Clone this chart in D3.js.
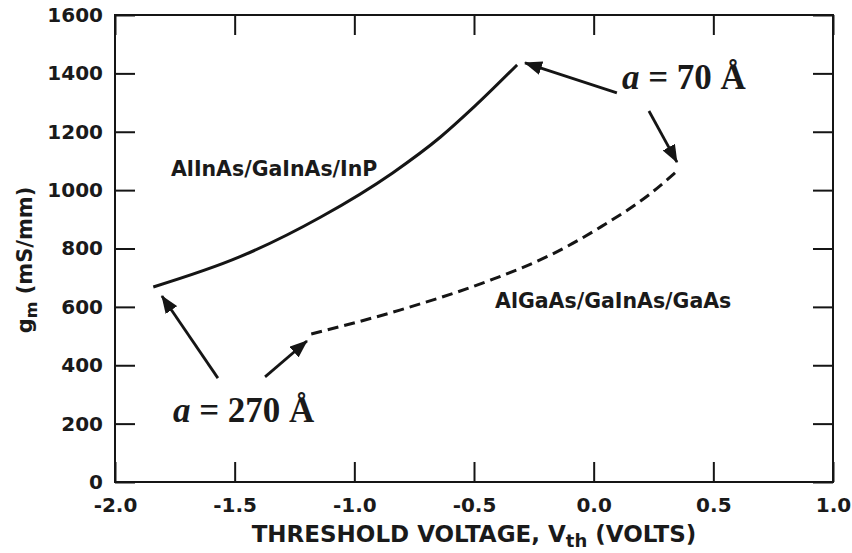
<!DOCTYPE html>
<html>
<head>
<meta charset="utf-8">
<script src="https://cdn.jsdelivr.net/npm/d3@7"></script>
<style>
  body { margin: 0; background: #fff; }
  svg { display: block; }
  .tick text { font-family: "DejaVu Sans", sans-serif; font-weight: bold; font-size: 20px; fill: #1a1a1a; }
</style>
</head>
<body>
<svg id="chart"></svg>
<script>
const width = 852
const height = 553
const margin = { top: 15, right: 19, bottom: 71, left: 115 }
const innerW = width - margin.left - margin.right
const innerH = height - margin.top - margin.bottom

// data
const xTicks = [-2.0, -1.5, -1.0, -0.5, 0.0, 0.5, 1.0]
const yTicks = [0, 200, 400, 600, 800, 1000, 1200, 1400, 1600]

const inpV = [-1.84, -1.48, -1.14, -0.84, -0.64, -0.50, -0.32]
const inpGm = [668, 771, 908, 1059, 1182, 1285, 1429]
const gaasV = [-1.18, -0.81, -0.43, -0.18, 0.03, 0.24, 0.34]
const gaasGm = [507, 589, 692, 778, 874, 990, 1059]

const seriesLabels = ['AlInAs/GaInAs/InP', 'AlGaAs/GaInAs/GaAs']
const seriesLabelPos = [[-1.766, 1048], [-0.412, 596]]

const noteLabels = ['70', '270']
const notePos = [[0.118, 1348], [-1.758, 206]]
// arrows: [tailV, tailGm, tipV, tipGm]
const arrows = [
  [0.097, 1333, -0.287, 1436],
  [0.231, 1271, 0.348, 1096],
  [-1.570, 356, -1.804, 637],
  [-1.373, 360, -1.198, 483]
]

const x = d3.scaleLinear().domain([-2, 1]).range([0, innerW])
const y = d3.scaleLinear().domain([0, 1600]).range([innerH, 0])

const svg = d3.select('#chart').attr('width', width).attr('height', height)
const g = svg.append('g').attr('transform', `translate(${margin.left},${margin.top})`)

const ink = '#151515'

// axes with inside ticks
const axisB = g.append('g')
  .attr('transform', `translate(0,${innerH})`)
  .call(d3.axisBottom(x).tickValues(xTicks).tickSize(-20).tickPadding(16).tickFormat(d3.format('.1f')))
const axisL = g.append('g')
  .call(d3.axisLeft(y).tickValues(yTicks).tickSize(-20).tickPadding(12).tickFormat(d3.format('d')))
const axisT = g.append('g')
  .call(d3.axisTop(x).tickValues(xTicks).tickSize(-20).tickFormat(''))
const axisR = g.append('g')
  .attr('transform', `translate(${innerW},0)`)
  .call(d3.axisRight(y).tickValues(yTicks).tickSize(-20).tickFormat(''))

;[axisB, axisL, axisT, axisR].forEach(a => {
  a.select('.domain').remove()
  a.selectAll('.tick line').attr('stroke', ink).attr('stroke-width', 2)
})
// minus signs as plain hyphen like the original
axisB.selectAll('.tick text').text(d => d3.format('.1f')(d).replace('−', '-'))

g.append('rect')
  .attr('width', innerW)
  .attr('height', innerH)
  .attr('fill', 'none')
  .attr('stroke', ink)
  .attr('stroke-width', 2)

// curves
const line = d3.line()
  .x(d => x(d[0]))
  .y(d => y(d[1]))
  .curve(d3.curveMonotoneX)

g.append('path')
  .datum(inpV.map((v, i) => [v, inpGm[i]]))
  .attr('d', line)
  .attr('fill', 'none')
  .attr('stroke', ink)
  .attr('stroke-width', 3)

g.append('path')
  .datum(gaasV.map((v, i) => [v, gaasGm[i]]))
  .attr('d', line)
  .attr('fill', 'none')
  .attr('stroke', ink)
  .attr('stroke-width', 3)
  .attr('stroke-dasharray', '11,6')

// series labels
g.selectAll('.series-label')
  .data(seriesLabels)
  .join('text')
  .attr('class', 'series-label')
  .attr('x', (d, i) => x(seriesLabelPos[i][0]))
  .attr('y', (d, i) => y(seriesLabelPos[i][1]))
  .attr('font-family', '"DejaVu Sans", sans-serif')
  .attr('font-weight', 'bold')
  .attr('font-size', 20.5)
  .attr('fill', '#1a1a1a')
  .text(d => d)

// arrows
svg.append('defs').append('marker')
  .attr('id', 'head')
  .attr('viewBox', '0 0 18 14')
  .attr('refX', 17)
  .attr('refY', 7)
  .attr('markerWidth', 18)
  .attr('markerHeight', 14)
  .attr('markerUnits', 'userSpaceOnUse')
  .attr('orient', 'auto')
  .append('path')
  .attr('d', 'M0,0L18,7L0,14Z')
  .attr('fill', ink)

g.selectAll('.arrow')
  .data(arrows)
  .join('line')
  .attr('class', 'arrow')
  .attr('x1', d => x(d[0]))
  .attr('y1', d => y(d[1]))
  .attr('x2', d => x(d[2]))
  .attr('y2', d => y(d[3]))
  .attr('stroke', ink)
  .attr('stroke-width', 2.8)
  .attr('marker-end', 'url(#head)')

// a = ... Å notes
const notes = g.selectAll('.note')
  .data(noteLabels)
  .join('text')
  .attr('class', 'note')
  .attr('x', (d, i) => x(notePos[i][0]))
  .attr('y', (d, i) => y(notePos[i][1]))
  .attr('font-family', '"Liberation Serif", "Times New Roman", serif')
  .attr('font-weight', 'bold')
  .attr('font-size', 35)
  .attr('fill', '#1a1a1a')
notes.append('tspan').attr('font-style', 'italic').text('a')
notes.append('tspan').text(d => ` = ${d} Å`)

// axis titles
const xt = svg.append('text')
  .attr('x', margin.left + innerW / 2)
  .attr('y', 542)
  .attr('text-anchor', 'middle')
  .attr('font-family', '"DejaVu Sans", sans-serif')
  .attr('font-weight', 'bold')
  .attr('font-size', 23)
  .attr('fill', '#1a1a1a')
xt.append('tspan').text('THRESHOLD VOLTAGE, V')
xt.append('tspan').attr('font-size', 18).attr('dy', 5).text('th')
xt.append('tspan').attr('dy', -5).text(' (VOLTS)')

const yt = svg.append('text')
  .attr('transform', 'translate(32,260) rotate(-90)')
  .attr('text-anchor', 'middle')
  .attr('font-family', '"DejaVu Sans", sans-serif')
  .attr('font-weight', 'bold')
  .attr('font-size', 21)
  .attr('fill', '#1a1a1a')
yt.append('tspan').text('g')
yt.append('tspan').attr('font-size', 16).attr('dy', 5).text('m')
yt.append('tspan').attr('dy', -5).text('  (mS/mm)')
</script>
</body>
</html>
